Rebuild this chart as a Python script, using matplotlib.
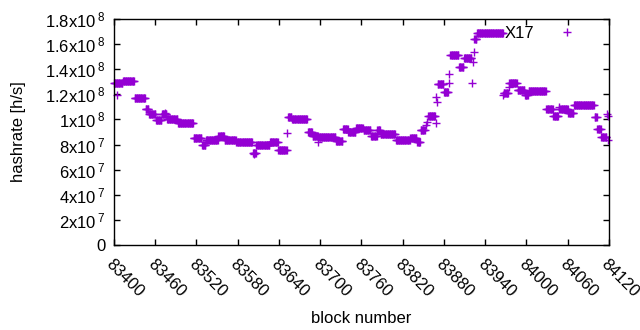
import numpy as np
import matplotlib
matplotlib.use("Agg")
import matplotlib.pyplot as plt

plt.rcParams['font.family'] = ['Liberation Sans', 'DejaVu Sans']
plt.rcParams['mathtext.fontset'] = 'custom'
plt.rcParams['mathtext.rm'] = 'Liberation Sans'
plt.rcParams['mathtext.it'] = 'Liberation Sans'

BASE = 83400
# runs of constant hashrate (block offsets from 83400, inclusive), values in 1e8 h/s
run_first = [0, 13, 30, 46, 51, 61, 70, 77, 93, 116, 128, 134, 152, 161, 178, 184, 202, 207,
             227, 239, 253, 259, 282, 289, 298, 323, 333, 341, 352, 363, 374, 383, 388, 410,
             431, 441, 446, 457, 471, 480, 489, 502, 509, 524, 528, 567, 575, 587, 598, 603,
             629, 639, 648, 661, 669, 699, 703, 709]
run_last = [12, 29, 45, 50, 60, 69, 76, 92, 115, 127, 133, 151, 160, 177, 183, 201, 206, 226,
            238, 251, 258, 281, 288, 297, 322, 332, 340, 351, 362, 373, 382, 387, 409, 430,
            440, 445, 452, 467, 479, 486, 501, 508, 520, 527, 566, 573, 586, 597, 602, 628,
            638, 646, 660, 668, 698, 702, 708, 716]
run_value = [1.29, 1.306, 1.167, 1.08, 1.047, 0.996, 1.047, 1.0, 0.968, 0.856, 0.797, 0.836,
             0.872, 0.836, 0.82, 0.824, 0.733, 0.797, 0.82, 0.76, 1.02, 1.004, 0.9, 0.868,
             0.864, 0.828, 0.92, 0.9, 0.932, 0.916, 0.868, 0.916, 0.888, 0.836, 0.856, 0.82,
             0.912, 1.027, 1.28, 1.215, 1.517, 1.418, 1.486, 1.64, 1.685, 1.21, 1.294, 1.235,
             1.195, 1.23, 1.083, 1.031, 1.083, 1.055, 1.115, 1.02, 0.924, 0.86]
# isolated points
pt_offset = [4, 74, 203, 252, 297, 454, 455, 468, 469, 470, 487, 488, 521, 522, 523, 566,
             574, 647, 717, 718, 719]
pt_value = [1.195, 1.05, 0.725, 0.892, 0.82, 0.955, 0.98, 0.972, 1.18, 1.14, 1.29, 1.36,
            1.29, 1.458, 1.537, 1.195, 1.26, 1.1, 1.043, 1.03, 0.836]

xs, ys = [], []
for a, b, v in zip(run_first, run_last, run_value):
    for k in range(a, b + 1):
        xs.append(BASE + k)
        ys.append(v * 1e8)
for k, v in zip(pt_offset, pt_value):
    xs.append(BASE + k)
    ys.append(v * 1e8)

xticks = list(range(83400, 84121, 60))
yticks = [0, 2e7, 4e7, 6e7, 8e7, 1e8, 1.2e8, 1.4e8, 1.6e8, 1.8e8]
ylabels = ['0', '2x10$\\,^{7}$', '4x10$\\,^{7}$', '6x10$\\,^{7}$', '8x10$\\,^{7}$',
           '1x10$\\,^{8}$', '1.2x10$\\,^{8}$', '1.4x10$\\,^{8}$', '1.6x10$\\,^{8}$', '1.8x10$\\,^{8}$']

fig = plt.figure(figsize=(6.4, 3.3), dpi=100)
ax = fig.add_axes([114/640, 85/330, 495/640, 226/330])
color = '#9400D3'
ax.plot(xs, ys, linestyle='none', marker='+', markersize=5.4, markeredgewidth=1.0,
        color=color, label='X17', clip_on=False)
ax.set_xlim(83400, 84120)
ax.set_ylim(0, 1.8e8)
ax.set_xticks(xticks)
ax.set_xticklabels([str(t) for t in xticks], rotation=-45, ha='left', va='top',
                   rotation_mode='anchor', fontsize=12)
ax.set_yticks(yticks)
ax.set_yticklabels(ylabels, fontsize=12)
ax.tick_params(direction='in', length=4, width=1, top=True, right=True, pad=6)
ax.tick_params(axis='x', pad=8)
for s in ax.spines.values():
    s.set_linewidth(1.0)
ax.set_xlabel('block number', fontsize=12)
ax.set_ylabel('hashrate [h/s]', fontsize=12)
ax.xaxis.set_label_coords(0.5, -0.29)
ax.yaxis.set_label_coords(-0.177, 0.5)
ax.legend(loc='upper right', bbox_to_anchor=(0.949, 0.968), frameon=False, markerfirst=False,
          fontsize=12, borderpad=0, borderaxespad=0, handlelength=2, handletextpad=1.0)
fig.savefig('out.png', dpi=100)
